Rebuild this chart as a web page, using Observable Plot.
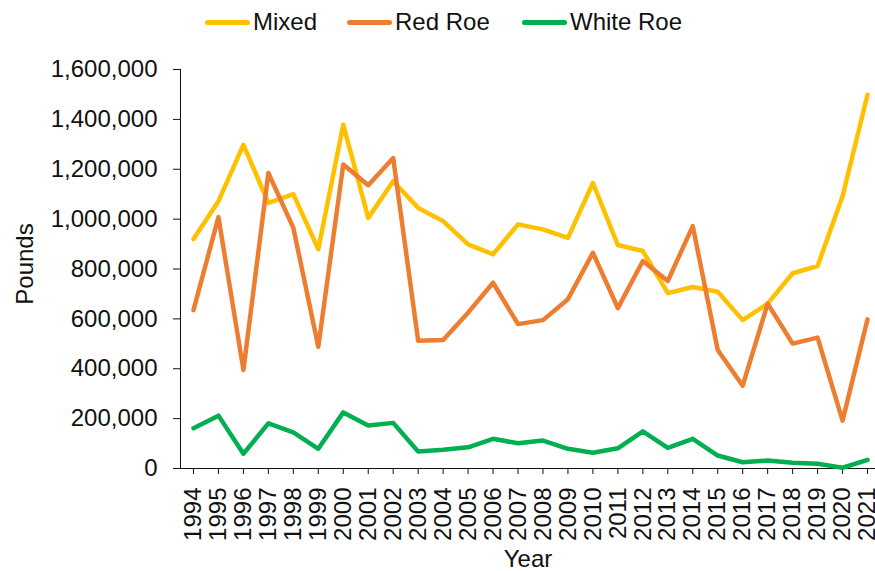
<!DOCTYPE html>
<html>
<head>
<meta charset="utf-8">
<script src="https://cdn.jsdelivr.net/npm/d3@7"></script>
<script src="https://cdn.jsdelivr.net/npm/@observablehq/plot@0.6"></script>
<style>
  html, body { margin: 0; padding: 0; background: #fff; }
  body { width: 875px; height: 571px; overflow: hidden; font-family: "Liberation Sans", Arial, sans-serif; }
  #legend { position: relative; height: 44px; }
  .item { position: absolute; top: 0; height: 44px; display: flex; align-items: center; font-size: 24px; color: #111; }
  .sw { width: 45px; height: 5px; border-radius: 3px; margin-right: 3px; }
  #chart svg { overflow: hidden; }
</style>
</head>
<body>
<div id="legend"></div>
<div id="chart"></div>
<script>
const years = [1994,1995,1996,1997,1998,1999,2000,2001,2002,2003,2004,2005,2006,2007,2008,2009,2010,2011,2012,2013,2014,2015,2016,2017,2018,2019,2020,2021];
const seriesNames = ["Mixed", "Red Roe", "White Roe"];
const mixed = [920000,1072000,1298000,1065000,1100000,879000,1379000,1005000,1152000,1045000,992000,899000,859000,979000,959000,925000,1145000,896000,872000,703000,728000,709000,595000,661000,783000,812000,1092000,1499000];
const redRoe = [635000,1008000,395000,1185000,965000,488000,1219000,1136000,1245000,512000,515000,625000,745000,579000,595000,679000,865000,643000,832000,752000,972000,475000,332000,661000,501000,525000,192000,598000];
const whiteRoe = [161000,212000,59000,181000,145000,79000,225000,172000,183000,68000,75000,85000,119000,101000,112000,79000,63000,81000,149000,83000,119000,52000,25000,32000,23000,19000,3000,35000];
const yTicks = [0,200000,400000,600000,800000,1000000,1200000,1400000,1600000];
const colors = ["#FFC000", "#ED7D31", "#00B050"];

const valuesBySeries = [mixed, redRoe, whiteRoe];
const data = [];
seriesNames.forEach((s, i) => {
  years.forEach((yr, j) => data.push({series: s, year: yr, value: valuesBySeries[i][j]}));
});

// Legend
const legendX = [205, 347, 522];
const legend = document.getElementById("legend");
seriesNames.forEach((s, i) => {
  const it = document.createElement("div");
  it.className = "item";
  it.style.left = legendX[i] + "px";
  const sw = document.createElement("span");
  sw.className = "sw";
  sw.style.background = colors[i];
  const t = document.createElement("span");
  t.textContent = s;
  it.appendChild(sw);
  it.appendChild(t);
  legend.appendChild(it);
});

const chart = Plot.plot({
  width: 875,
  height: 527,
  marginLeft: 180,
  marginRight: 0,
  marginTop: 25,
  marginBottom: 103,
  style: {fontFamily: "Liberation Sans, Arial, sans-serif", fontSize: "24px", color: "#111", background: "#fff"},
  x: {
    type: "linear",
    domain: [years[0] - 0.5, years[years.length - 1] + 0.5],
    range: [180.5, 879.5],
    ticks: years,
    tickFormat: d3.format("d"),
    tickRotate: -90,
    tickSize: 6,
    tickPadding: 13,
    label: null,
    line: true
  },
  y: {
    domain: [0, 1600000],
    ticks: yTicks,
    tickFormat: d3.format(","),
    tickSize: 7,
    tickPadding: 16,
    label: null,
    line: true
  },
  color: {domain: seriesNames, range: colors},
  marks: [
    Plot.line(data, {x: "year", y: "value", z: "series", stroke: "series", strokeWidth: 4.5, strokeLinejoin: "round", strokeLinecap: "round"}),
    Plot.text(["Pounds"], {frameAnchor: "left", rotate: -90, dx: -155, dy: -5, fontSize: 24, fill: "#111", textAnchor: "middle", lineAnchor: "middle"}),
    Plot.text(["Year"], {frameAnchor: "bottom", dy: 91, fontSize: 24, fill: "#111", textAnchor: "middle", lineAnchor: "middle"})
  ]
});
document.getElementById("chart").appendChild(chart);
</script>
</body>
</html>
